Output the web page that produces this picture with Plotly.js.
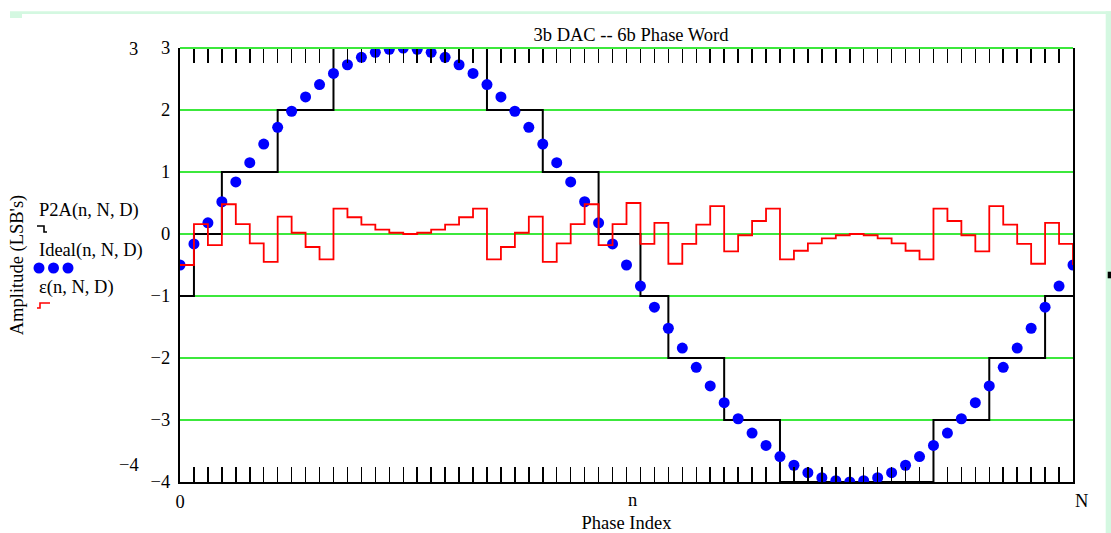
<!DOCTYPE html>
<html>
<head>
<meta charset="utf-8">
<script src="https://cdn.plot.ly/plotly-3.0.1.min.js"></script>
<style>
  html, body { margin: 0; padding: 0; background: #ffffff; }
  #chart { width: 1111px; height: 533px; }
</style>
</head>
<body>
<div id="chart"></div>
<script>
// ---- data ----
const phaseIndex = [0,1,2,3,4,5,6,7,8,9,10,11,12,13,14,15,16,17,18,19,20,21,22,23,24,25,26,27,28,29,30,31,32,
  33,34,35,36,37,38,39,40,41,42,43,44,45,46,47,48,49,50,51,52,53,54,55,56,57,58,59,60,61,62,63,64];

const idealValues = [-0.50,-0.16,0.18,0.52,0.84,1.15,1.45,1.72,1.98,2.21,2.41,2.59,2.73,2.85,2.93,2.98,3.00,
  2.98,2.93,2.85,2.73,2.59,2.41,2.21,1.98,1.72,1.45,1.15,0.84,0.52,0.18,-0.16,-0.50,
  -0.84,-1.18,-1.52,-1.84,-2.15,-2.45,-2.72,-2.98,-3.21,-3.41,-3.59,-3.73,-3.85,-3.93,-3.98,-4.00,
  -3.98,-3.93,-3.85,-3.73,-3.59,-3.41,-3.21,-2.98,-2.72,-2.45,-2.15,-1.84,-1.52,-1.18,-0.84,-0.50];

const p2aValues = [-1,0,0,1,1,1,1,2,2,2,2,3,3,3,3,3,3,
  3,3,3,3,3,2,2,2,2,1,1,1,1,0,0,0,
  -1,-1,-2,-2,-2,-2,-3,-3,-3,-3,-4,-4,-4,-4,-4,-4,
  -4,-4,-4,-4,-4,-3,-3,-3,-3,-2,-2,-2,-2,-1,-1,-1];

const errorValues = [-0.50,0.16,-0.18,0.48,0.16,-0.15,-0.45,0.28,0.02,-0.21,-0.41,0.41,0.27,0.15,0.07,0.02,0.00,
  0.02,0.07,0.15,0.27,0.41,-0.41,-0.21,0.02,0.28,-0.45,-0.15,0.16,0.48,-0.18,0.16,0.50,
  -0.16,0.18,-0.48,-0.16,0.15,0.45,-0.28,-0.02,0.21,0.41,-0.41,-0.27,-0.15,-0.07,-0.02,0.00,
  -0.02,-0.07,-0.15,-0.27,-0.41,0.41,0.21,-0.02,-0.28,0.45,0.15,-0.16,-0.48,0.18,-0.16,-0.50];

const xTickText = ['0','n','N'];
const yTickValues = [3,2,1,0,-1,-2,-3,-4];

const chartTitle = '3b DAC -- 6b Phase Word';
const xTitle = 'Phase Index';
const yTitle = "Amplitude (LSB's)";
const legendNames = ['P2A(n, N, D)', 'Ideal(n, N, D)', '\u03b5(n, N, D)'];

// ---- layout helpers (pixel -> paper) ----
const L = 180, R = 1073, T = 48, B = 482;
const X = p => (p - L) / (R - L);
const Y = p => (B - p) / (B - T);

const FONT = 'Liberation Serif, Times New Roman, serif';
const GREEN = 'rgb(60,232,60)';

const tickText = phaseIndex.map(v => (v === 0 ? xTickText[0] : ''));

const traces = [
  // invisible companion so the top (mirror) tick axis is drawn
  { x: phaseIndex, y: p2aValues, xaxis: 'x2', yaxis: 'y', mode: 'lines', hoverinfo: 'skip',
    showlegend: false, opacity: 0, line: { width: 0, color: 'rgba(0,0,0,0)' } },
  { x: phaseIndex, y: p2aValues, name: legendNames[0], mode: 'lines',
    line: { shape: 'hv', color: '#000000', width: 2 } },
  { x: phaseIndex, y: idealValues, name: legendNames[1], mode: 'markers', cliponaxis: true,
    marker: { color: '#0000ff', size: 11 } },
  { x: phaseIndex, y: errorValues, name: legendNames[2], mode: 'lines',
    line: { shape: 'hv', color: '#ff0000', width: 1.8 } }
];

const shapes = [
  // top frame (green, like the gridlines)
  { type: 'line', xref: 'paper', yref: 'paper', x0: 0, x1: 1, y0: 1, y1: 1,
    line: { color: GREEN, width: 2 } },
  // light green page border
  { type: 'rect', xref: 'paper', yref: 'paper', x0: X(10), x1: X(1111), y0: Y(11.3), y1: Y(14),
    fillcolor: '#d4f8e1', line: { width: 0 } },
  { type: 'rect', xref: 'paper', yref: 'paper', x0: X(10), x1: X(22), y0: Y(14), y1: Y(18),
    fillcolor: '#d4f8e1', line: { width: 0 } },
  { type: 'rect', xref: 'paper', yref: 'paper', x0: X(1105.7), x1: X(1111), y0: Y(11.3), y1: Y(533),
    fillcolor: '#d4f8e1', line: { width: 0 } },
  // small black mark at right edge
  { type: 'rect', xref: 'paper', yref: 'paper', x0: X(1107.7), x1: X(1111), y0: Y(271.7), y1: Y(278.3),
    fillcolor: '#000000', line: { width: 0 } },
  // legend symbols
  { type: 'path', xref: 'paper', yref: 'paper',
    path: `M ${X(37)} ${Y(226)} L ${X(44)} ${Y(226)} L ${X(44)} ${Y(232)} L ${X(47)} ${Y(232)}`,
    line: { color: '#000000', width: 1.6 } },
  { type: 'path', xref: 'paper', yref: 'paper',
    path: `M ${X(37)} ${Y(308)} L ${X(40)} ${Y(308)} L ${X(40)} ${Y(303)} L ${X(50)} ${Y(303)}`,
    line: { color: '#ff0000', width: 1.6 } }
];
[39, 53.5, 68].forEach(cx => {
  shapes.push({ type: 'circle', xref: 'paper', yref: 'paper',
    x0: X(cx - 5.5), x1: X(cx + 5.5), y0: Y(268 + 5.5), y1: Y(268 - 5.5),
    fillcolor: '#0000ff', line: { width: 0 } });
});

const annFont = { family: FONT, size: 18.5, color: '#000000' };
const annotations = [
  { text: legendNames[0], x: X(37), y: Y(210) },
  { text: legendNames[1], x: X(37), y: Y(250) },
  { text: legendNames[2], x: X(37), y: Y(287) },
].map(a => Object.assign(a, { xref: 'paper', yref: 'paper', xanchor: 'left', yanchor: 'middle',
  showarrow: false, font: annFont }));
annotations.push(
  { text: '3', x: X(140), y: Y(49), xref: 'paper', yref: 'paper', xanchor: 'right', yanchor: 'middle',
    showarrow: false, font: annFont },
  { text: '\u22124', x: X(141), y: Y(465), xref: 'paper', yref: 'paper', xanchor: 'right', yanchor: 'middle',
    showarrow: false, font: annFont },
  { text: xTickText[1], x: X(632), y: Y(500), xref: 'paper', yref: 'paper', xanchor: 'center', yanchor: 'middle',
    showarrow: false, font: annFont },
  { text: xTickText[2], x: X(1081), y: Y(501), xref: 'paper', yref: 'paper', xanchor: 'center', yanchor: 'middle',
    showarrow: false, font: annFont }
);

const layout = {
  width: 1111, height: 533,
  margin: { l: L, r: 1111 - R, t: T, b: 533 - B, pad: 0 },
  paper_bgcolor: '#ffffff', plot_bgcolor: '#ffffff',
  showlegend: false,
  font: { family: FONT, size: 18.5, color: '#000000' },
  title: { text: chartTitle, font: { family: FONT, size: 18.5, color: '#000000' },
    xref: 'paper', x: X(631), xanchor: 'center', yref: 'container', y: 1 - 35 / 533, yanchor: 'middle' },
  xaxis: {
    range: [0, 64], fixedrange: true,
    tickmode: 'array', tickvals: phaseIndex, ticktext: tickText,
    ticks: 'inside', ticklen: 15, tickwidth: 1.5, tickcolor: '#000000',
    showline: true, linecolor: '#000000', linewidth: 2, mirror: false,
    showgrid: false, zeroline: false,
    ticklabelstandoff: 2,
    tickfont: { family: FONT, size: 18.5, color: '#000000' },
    title: { text: xTitle, font: { family: FONT, size: 18.5, color: '#000000' }, standoff: 6 }
  },
  xaxis2: {
    overlaying: 'x', side: 'top', anchor: 'y',
    range: [0, 64], fixedrange: true,
    tickmode: 'array', tickvals: phaseIndex,
    ticks: 'inside', ticklen: 15, tickwidth: 1.5, tickcolor: '#000000',
    showticklabels: false, showline: false, showgrid: false, zeroline: false
  },
  yaxis: {
    range: [-4, 3], fixedrange: true,
    tickmode: 'array', tickvals: yTickValues, ticktext: yTickValues.map(v => v < 0 ? '\u2212' + (-v) : String(v)),
    ticks: '', showline: true, linecolor: '#000000', linewidth: 2, mirror: true,
    showgrid: true, gridcolor: GREEN, gridwidth: 1.2, zeroline: false,
    ticklabelstandoff: 4,
    tickfont: { family: FONT, size: 18.5, color: '#000000' },
    title: { text: yTitle, font: { family: FONT, size: 18.5, color: '#000000' }, standoff: 122 }
  },
  shapes: shapes,
  annotations: annotations
};

Plotly.newPlot('chart', traces, layout, { displayModeBar: false, staticPlot: true });
</script>
</body>
</html>
